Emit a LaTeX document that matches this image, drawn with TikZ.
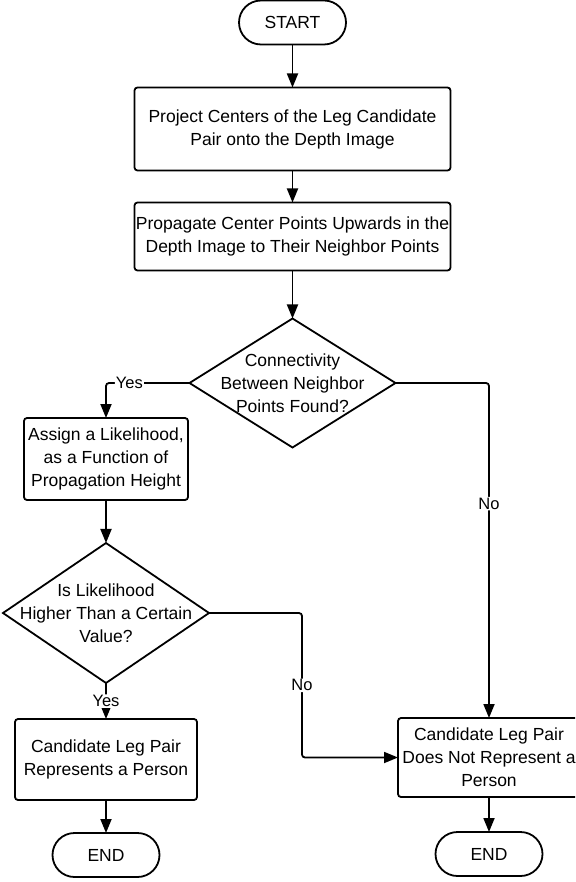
\documentclass[tikz,border=0pt]{standalone}
\usepackage{fontspec}
\setmainfont{Liberation Sans}
\usetikzlibrary{positioning,arrows.meta,shapes.geometric}

\begin{document}
\begin{tikzpicture}[x=1pt,y=-1pt,>={Triangle[length=14pt,width=11pt]},line width=1.8pt,
  every node/.style={font=\fontsize{17.5}{23}\selectfont,outer sep=0pt},
  term/.style={draw,rounded corners=22pt,minimum width=107pt,minimum height=44pt},
  proc/.style={draw,rounded corners=3pt,align=center,inner sep=0pt},
  dec/.style={draw,diamond,align=center,inner sep=-16pt,minimum width=206pt},
  lbl/.style={fill=white,inner sep=1pt,font=\fontsize{16.5}{20}\selectfont},
  flow/.style={->,rounded corners=3pt}]
  \clip (0,0) rectangle (575,882);

  \node[term] (start) at (292.5,22.5) {START};
  \node[proc,minimum width=316pt,minimum height=83pt,below=43pt of start] (proj) {Project Centers of the Leg Candidate\\Pair onto the Depth Image};
  \node[proc,minimum width=316pt,minimum height=68pt,below=32pt of proj] (prop) {Propagate Center Points Upwards in the\\Depth Image to Their Neighbor Points};
  \node[dec,aspect=1.6,minimum height=129pt,below=48pt of prop] (conn) {Connectivity\\Between Neighbor\\Points Found?};

  % left branch
  \node[proc,minimum width=164pt,minimum height=82pt] (assign) at (106,459) {Assign a Likelihood,\\as a Function of\\Propagation Height};
  \node[dec,aspect=1.47,minimum height=140pt,below=43pt of assign] (high) {Is Likelihood\\Higher Than a Certain\\Value?};
  \node[proc,minimum width=182pt,minimum height=81pt,below=36pt of high] (pers) {Candidate Leg Pair\\Represents a Person};
  \node[term,below=33pt of pers] (end1) {END};

  % right branch
  \node[proc,minimum width=182pt,minimum height=79pt] (notp) at (489,757.5) {Candidate Leg Pair\\Does Not Represent a\\Person};
  \node[term,below=35pt of notp] (end2) {END};

  \draw[flow] (start) -- (proj);
  \draw[flow] (proj) -- (prop);
  \draw[flow] (prop) -- (conn);
  \draw[flow] (conn.west) -| node[lbl,pos=0.36] {Yes} (assign.north);
  \draw[flow] (conn.east) -| node[lbl,pos=0.68] {No} (notp.north);
  \draw[flow] (assign) -- (high);
  \draw[flow] (high) -- node[lbl] {Yes} (pers);
  \draw[flow] (high.east) -- ++(93,0) |- node[lbl,pos=0.25] {No} (notp.west);
  \draw[flow] (pers) -- (end1);
  \draw[flow] (notp) -- (end2);
\end{tikzpicture}
\end{document}
